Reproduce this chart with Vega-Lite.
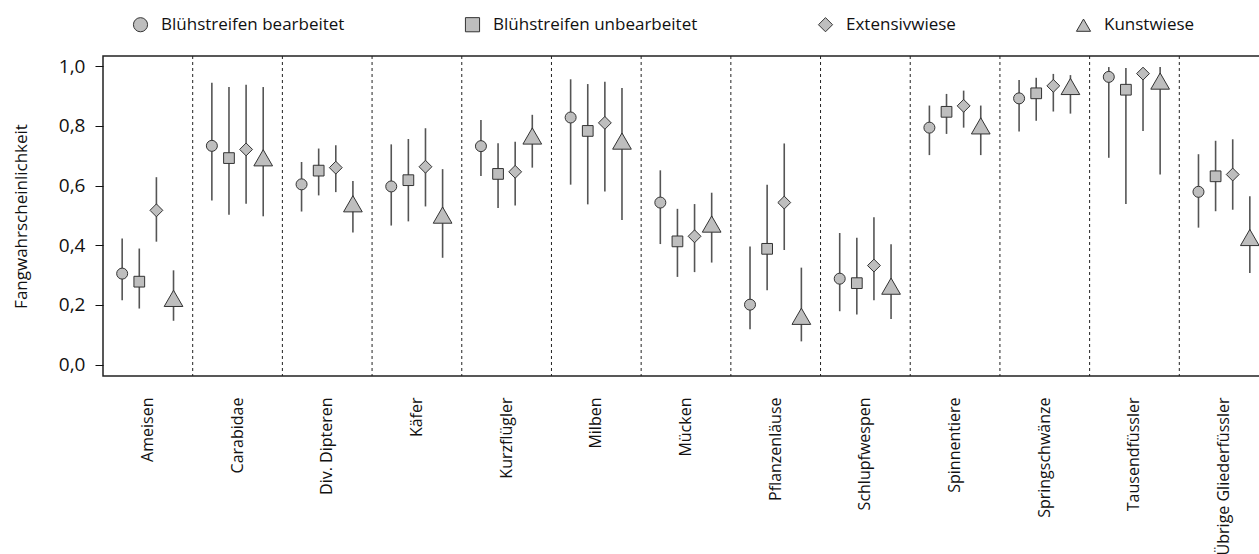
{
  "$schema": "https://vega.github.io/schema/vega-lite/v6.json",
  "autosize": "none",
  "padding": {"left": 103, "top": 56, "right": 0, "bottom": 178},
  "width": 1166,
  "height": 320,
  "config": {
    "font": "Open Sans",
    "view": {"stroke": "#222", "strokeWidth": 1.5},
    "axis": {"labelColor": "#111", "titleColor": "#111", "labelFont": "Open Sans", "titleFont": "Open Sans"},
    "legend": {"labelFont": "Open Sans"}
  },
  "data": {
    "values": [
      {"cat": "Ameisen", "serie": "Blühstreifen bearbeitet", "p": 0.305, "lo": 0.216, "hi": 0.423},
      {"cat": "Ameisen", "serie": "Blühstreifen unbearbeitet", "p": 0.278, "lo": 0.188, "hi": 0.389},
      {"cat": "Ameisen", "serie": "Extensivwiese", "p": 0.517, "lo": 0.412, "hi": 0.628},
      {"cat": "Ameisen", "serie": "Kunstwiese", "p": 0.222, "lo": 0.147, "hi": 0.316},
      {"cat": "Carabidae", "serie": "Blühstreifen bearbeitet", "p": 0.733, "lo": 0.55, "hi": 0.944},
      {"cat": "Carabidae", "serie": "Blühstreifen unbearbeitet", "p": 0.692, "lo": 0.502, "hi": 0.93},
      {"cat": "Carabidae", "serie": "Extensivwiese", "p": 0.721, "lo": 0.539, "hi": 0.938},
      {"cat": "Carabidae", "serie": "Kunstwiese", "p": 0.693, "lo": 0.497, "hi": 0.93},
      {"cat": "Div. Dipteren", "serie": "Blühstreifen bearbeitet", "p": 0.604, "lo": 0.513, "hi": 0.679},
      {"cat": "Div. Dipteren", "serie": "Blühstreifen unbearbeitet", "p": 0.65, "lo": 0.567, "hi": 0.724},
      {"cat": "Div. Dipteren", "serie": "Extensivwiese", "p": 0.66, "lo": 0.578, "hi": 0.735},
      {"cat": "Div. Dipteren", "serie": "Kunstwiese", "p": 0.539, "lo": 0.443, "hi": 0.615},
      {"cat": "Käfer", "serie": "Blühstreifen bearbeitet", "p": 0.597, "lo": 0.466, "hi": 0.738},
      {"cat": "Käfer", "serie": "Blühstreifen unbearbeitet", "p": 0.618, "lo": 0.48, "hi": 0.756},
      {"cat": "Käfer", "serie": "Extensivwiese", "p": 0.663, "lo": 0.53, "hi": 0.792},
      {"cat": "Käfer", "serie": "Kunstwiese", "p": 0.501, "lo": 0.358, "hi": 0.655},
      {"cat": "Kurzflügler", "serie": "Blühstreifen bearbeitet", "p": 0.732, "lo": 0.632, "hi": 0.82},
      {"cat": "Kurzflügler", "serie": "Blühstreifen unbearbeitet", "p": 0.639, "lo": 0.525, "hi": 0.742},
      {"cat": "Kurzflügler", "serie": "Extensivwiese", "p": 0.646, "lo": 0.533, "hi": 0.747},
      {"cat": "Kurzflügler", "serie": "Kunstwiese", "p": 0.766, "lo": 0.66, "hi": 0.837},
      {"cat": "Milben", "serie": "Blühstreifen bearbeitet", "p": 0.828, "lo": 0.603, "hi": 0.956},
      {"cat": "Milben", "serie": "Blühstreifen unbearbeitet", "p": 0.783, "lo": 0.537, "hi": 0.94},
      {"cat": "Milben", "serie": "Extensivwiese", "p": 0.81, "lo": 0.58, "hi": 0.948},
      {"cat": "Milben", "serie": "Kunstwiese", "p": 0.749, "lo": 0.485, "hi": 0.927},
      {"cat": "Mücken", "serie": "Blühstreifen bearbeitet", "p": 0.543, "lo": 0.404, "hi": 0.651},
      {"cat": "Mücken", "serie": "Blühstreifen unbearbeitet", "p": 0.413, "lo": 0.294, "hi": 0.522},
      {"cat": "Mücken", "serie": "Extensivwiese", "p": 0.43, "lo": 0.31, "hi": 0.538},
      {"cat": "Mücken", "serie": "Kunstwiese", "p": 0.471, "lo": 0.342, "hi": 0.576},
      {"cat": "Pflanzenläuse", "serie": "Blühstreifen bearbeitet", "p": 0.201, "lo": 0.119, "hi": 0.396},
      {"cat": "Pflanzenläuse", "serie": "Blühstreifen unbearbeitet", "p": 0.388, "lo": 0.249, "hi": 0.603},
      {"cat": "Pflanzenläuse", "serie": "Extensivwiese", "p": 0.543, "lo": 0.384, "hi": 0.741},
      {"cat": "Pflanzenläuse", "serie": "Kunstwiese", "p": 0.162, "lo": 0.078, "hi": 0.325},
      {"cat": "Schlupfwespen", "serie": "Blühstreifen bearbeitet", "p": 0.288, "lo": 0.179, "hi": 0.441},
      {"cat": "Schlupfwespen", "serie": "Blühstreifen unbearbeitet", "p": 0.273, "lo": 0.168, "hi": 0.425},
      {"cat": "Schlupfwespen", "serie": "Extensivwiese", "p": 0.332, "lo": 0.216, "hi": 0.494},
      {"cat": "Schlupfwespen", "serie": "Kunstwiese", "p": 0.263, "lo": 0.153, "hi": 0.403},
      {"cat": "Spinnentiere", "serie": "Blühstreifen bearbeitet", "p": 0.794, "lo": 0.702, "hi": 0.868},
      {"cat": "Spinnentiere", "serie": "Blühstreifen unbearbeitet", "p": 0.847, "lo": 0.773, "hi": 0.907},
      {"cat": "Spinnentiere", "serie": "Extensivwiese", "p": 0.867, "lo": 0.794, "hi": 0.918},
      {"cat": "Spinnentiere", "serie": "Kunstwiese", "p": 0.8, "lo": 0.702, "hi": 0.868},
      {"cat": "Springschwänze", "serie": "Blühstreifen bearbeitet", "p": 0.892, "lo": 0.781, "hi": 0.954},
      {"cat": "Springschwänze", "serie": "Blühstreifen unbearbeitet", "p": 0.909, "lo": 0.817, "hi": 0.961},
      {"cat": "Springschwänze", "serie": "Extensivwiese", "p": 0.934, "lo": 0.848, "hi": 0.974},
      {"cat": "Springschwänze", "serie": "Kunstwiese", "p": 0.932, "lo": 0.841, "hi": 0.97},
      {"cat": "Tausendfüssler", "serie": "Blühstreifen bearbeitet", "p": 0.964, "lo": 0.693, "hi": 0.997},
      {"cat": "Tausendfüssler", "serie": "Blühstreifen unbearbeitet", "p": 0.921, "lo": 0.538, "hi": 0.994},
      {"cat": "Tausendfüssler", "serie": "Extensivwiese", "p": 0.975, "lo": 0.783, "hi": 0.995},
      {"cat": "Tausendfüssler", "serie": "Kunstwiese", "p": 0.95, "lo": 0.637, "hi": 0.997},
      {"cat": "Übrige Gliederfüssler", "serie": "Blühstreifen bearbeitet", "p": 0.579, "lo": 0.459, "hi": 0.705},
      {"cat": "Übrige Gliederfüssler", "serie": "Blühstreifen unbearbeitet", "p": 0.631, "lo": 0.514, "hi": 0.75},
      {"cat": "Übrige Gliederfüssler", "serie": "Extensivwiese", "p": 0.637, "lo": 0.519, "hi": 0.755},
      {"cat": "Übrige Gliederfüssler", "serie": "Kunstwiese", "p": 0.426, "lo": 0.307, "hi": 0.564}
    ]
  },
  "encoding": {
    "x": {
      "field": "cat", "type": "nominal", "sort": null,
      "scale": {
        "domain": ["Ameisen", "Carabidae", "Div. Dipteren", "Käfer", "Kurzflügler", "Milben", "Mücken", "Pflanzenläuse", "Schlupfwespen", "Spinnentiere", "Springschwänze", "Tausendfüssler", "Übrige Gliederfüssler"],
        "paddingInner": 0, "paddingOuter": 0
      },
      "axis": {"title": null, "ticks": false, "domain": false, "labelAngle": -90, "labelPadding": 21, "labelFontSize": 16, "labelLimit": 300}
    }
  },
  "layer": [
    {
      "transform": [{"filter": "datum.serie === 'Blühstreifen bearbeitet' && datum.cat !== 'Ameisen'"}],
      "mark": {"type": "rule", "color": "#222", "strokeWidth": 1, "strokeDash": [3, 3]},
      "encoding": {
        "x": {"field": "cat", "type": "nominal", "sort": null, "bandPosition": 0}
      }
    },
    {
      "mark": {"type": "rule", "color": "#555", "strokeWidth": 1.6},
      "encoding": {
        "xOffset": {"field": "serie", "type": "nominal", "sort": null, "scale": {"paddingInner": 0, "paddingOuter": 0.62}},
        "y": {
          "field": "lo", "type": "quantitative",
          "scale": {"domain": [-0.038, 1.034], "nice": false, "zero": false},
          "axis": {
            "title": "Fangwahrscheinlichkeit", "titleFontSize": 17, "titleFontWeight": "normal", "titlePadding": 28,
            "values": [0, 0.2, 0.4, 0.6, 0.8, 1],
            "labelExpr": "replace(format(datum.value, '.1f'), '.', ',')",
            "grid": false, "domain": false, "tickSize": 8, "tickColor": "#111", "labelFontSize": 19, "labelPadding": 10
          }
        },
        "y2": {"field": "hi"}
      }
    },
    {
      "mark": {"type": "point", "filled": true, "fill": "#bebebe", "strokeWidth": 1, "opacity": 1},
      "encoding": {
        "xOffset": {"field": "serie", "type": "nominal", "sort": null},
        "y": {"field": "p", "type": "quantitative"},
        "shape": {
          "field": "serie", "type": "nominal", "sort": null,
          "scale": {"domain": ["Blühstreifen bearbeitet", "Blühstreifen unbearbeitet", "Extensivwiese", "Kunstwiese"], "range": ["circle", "square", "diamond", "triangle-up"]},
          "legend": {
            "title": null, "orient": "none", "direction": "horizontal", "legendX": 29, "legendY": -40,
            "labelFontSize": 17, "labelOffset": 12, "columnPadding": 118, "padding": 0, "labelLimit": 400,
            "symbolSize": 200,
            "symbolFillColor": "#bebebe", "symbolStrokeWidth": 1, "symbolOpacity": 1, "labelColor": "#111"
          }
        },
        "stroke": {
          "field": "serie", "type": "nominal", "sort": null,
          "scale": {"domain": ["Blühstreifen bearbeitet", "Blühstreifen unbearbeitet", "Extensivwiese", "Kunstwiese"], "range": ["#333333", "#333333", "#333333", "#333333"]},
          "legend": {
            "title": null, "orient": "none", "direction": "horizontal", "legendX": 29, "legendY": -40,
            "labelFontSize": 17, "labelOffset": 12, "columnPadding": 118, "padding": 0, "labelLimit": 400,
            "symbolSize": 200,
            "symbolFillColor": "#bebebe", "symbolStrokeWidth": 1, "symbolOpacity": 1, "labelColor": "#111"
          }
        },
        "size": {
          "condition": [
            {"test": "datum.serie === 'Kunstwiese'", "value": 350},
            {"test": "datum.serie === 'Extensivwiese'", "value": 165},
            {"test": "datum.serie === 'Blühstreifen unbearbeitet'", "value": 115}
          ],
          "value": 121
        }
      }
    }
  ]
}
